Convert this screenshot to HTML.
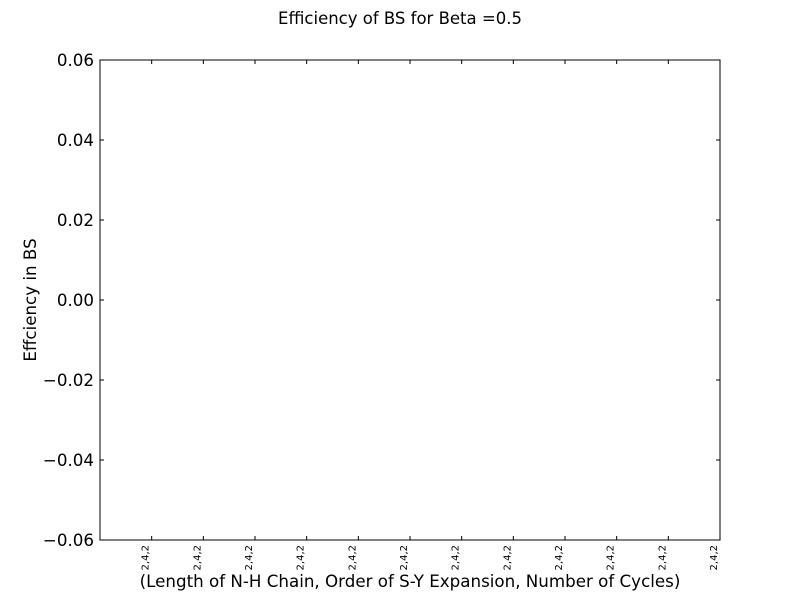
<!DOCTYPE html>
<html><head><meta charset="utf-8"><style>body{margin:0;background:#fff}svg{display:block}</style></head>
<body>
<svg id="chart" width="800" height="600" xmlns="http://www.w3.org/2000/svg" font-family="'DejaVu Sans','Liberation Sans',sans-serif">
<rect width="800" height="600" fill="#fff"/>
<text x="400" y="24" font-size="16.5" text-anchor="middle">Efficiency of BS for Beta =0.5</text>
<g id="axes"></g>
<text x="410" y="587" font-size="16.7" text-anchor="middle">(Length of N-H Chain, Order of S-Y Expansion, Number of Cycles)</text>
<text transform="translate(36,300) rotate(-90)" font-size="16.7" text-anchor="middle">Effciency in BS</text>
</svg>
<script>
const yTicks = [-0.06, -0.04, -0.02, 0.00, 0.02, 0.04, 0.06];
const yTickLabels = ["\u22120.06","\u22120.04","\u22120.02","0.00","0.02","0.04","0.06"];
const categories = ["2,4,2","2,4,2","2,4,2","2,4,2","2,4,2","2,4,2","2,4,2","2,4,2","2,4,2","2,4,2","2,4,2","2,4,2"];
const L=100,R=720,T=60,B=540;
const ymin=-0.06,ymax=0.06;
const y=v=>B-(v-ymin)/(ymax-ymin)*(B-T);
const x=i=>L+(i+1)*(R-L)/categories.length;
const g=document.getElementById('axes');
const NS='http://www.w3.org/2000/svg';
function mk(t,a){const e=document.createElementNS(NS,t);for(const k in a)e.setAttribute(k,a[k]);g.appendChild(e);return e;}
const frame=mk('rect',{x:L,y:T,width:R-L,height:B-T,fill:'none',stroke:'#000','stroke-width':1});


yTicks.forEach((v,i)=>{
  const yy=y(v);
  const t1=mk('line',{x1:L,x2:L+4,y1:yy,y2:yy,stroke:'#000'});
  
  
  const t2=mk('line',{x1:R-4,x2:R,y1:yy,y2:yy,stroke:'#000'});
  
  
  const tx=mk('text',{x:L-6,y:yy+6,'font-size':16.7,'text-anchor':'end'});
  tx.textContent=yTickLabels[i];
  
  
});
categories.forEach((c,i)=>{
  const xx=x(i);
  const t1=mk('line',{x1:xx,x2:xx,y1:B,y2:B-4,stroke:'#000'});
  
  
  const t2=mk('line',{x1:xx,x2:xx,y1:T,y2:T+4,stroke:'#000'});
  
  
  const tx=mk('text',{transform:`translate(${xx-3},545) rotate(-90)`,'font-size':10,'text-anchor':'end'});
  tx.textContent=c;
  
  
});
</script>
</body></html>
